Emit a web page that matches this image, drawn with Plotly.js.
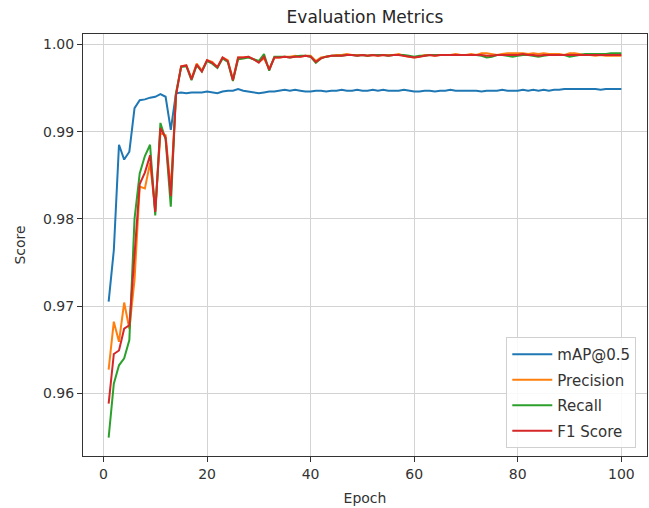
<!DOCTYPE html>
<html>
<head>
<meta charset="utf-8">
<script src="https://cdn.plot.ly/plotly-3.0.1.min.js"></script>
<style>html,body{margin:0;padding:0;background:#fff;}#chart{width:649px;height:508px;}</style>
</head>
<body>
<div id="chart"></div>
<script>
const epochs = [];
for (let i = 1; i <= 100; i++) epochs.push(i);

const seriesNames = ["mAP@0.5", "Precision", "Recall", "F1 Score"];

const mAP50 = [
0.9705,0.9764,0.9885,0.9868,0.9877,0.9927,0.9936,0.9937,0.9939,0.9940,
0.9943,0.9940,0.9902,0.9944,0.9945,0.9944,0.9945,0.9945,0.9945,0.9946,
0.9945,0.9944,0.9946,0.9947,0.9947,0.9949,0.9947,0.9946,0.9945,0.9944,
0.9945,0.9946,0.9946,0.9947,0.9948,0.9947,0.9948,0.9947,0.9946,0.9946,
0.9947,0.9947,0.9946,0.9947,0.9947,0.9948,0.9947,0.9947,0.9948,0.9947,
0.9947,0.9948,0.9947,0.9948,0.9947,0.9947,0.9947,0.9948,0.9947,0.9946,
0.9946,0.9947,0.9947,0.9946,0.9947,0.9947,0.9948,0.9947,0.9947,0.9947,
0.9947,0.9947,0.9946,0.9947,0.9947,0.9947,0.9948,0.9947,0.9947,0.9947,
0.9948,0.9947,0.9948,0.9947,0.9948,0.9947,0.9948,0.9948,0.9949,0.9949,
0.9949,0.9949,0.9949,0.9949,0.9949,0.9948,0.9949,0.9949,0.9949,0.9949
];

const precision = [
0.9627,0.9682,0.9659,0.9704,0.9674,0.9730,0.9837,0.9835,0.9864,0.9810,
0.9898,0.9896,0.9833,0.9943,0.9975,0.9976,0.9961,0.9978,0.9970,0.9982,
0.9980,0.9974,0.9985,0.9982,0.9960,0.9985,0.9985,0.9986,0.9983,0.9980,
0.9984,0.9972,0.9985,0.9985,0.9986,0.9986,0.9987,0.9986,0.9987,0.9987,
0.9981,0.9985,0.9986,0.9987,0.9988,0.9988,0.9989,0.9988,0.9988,0.9988,
0.9987,0.9988,0.9987,0.9988,0.9988,0.9988,0.9989,0.9987,0.9986,0.9985,
0.9986,0.9988,0.9988,0.9987,0.9988,0.9988,0.9988,0.9989,0.9988,0.9988,
0.9989,0.9988,0.9990,0.9990,0.9989,0.9988,0.9989,0.9990,0.9990,0.9990,
0.9990,0.9989,0.9990,0.9989,0.9990,0.9989,0.9989,0.9989,0.9988,0.9990,
0.9990,0.9989,0.9988,0.9988,0.9987,0.9988,0.9987,0.9987,0.9987,0.9987
];

const recall = [
0.9549,0.9611,0.9632,0.9640,0.9661,0.9800,0.9852,0.9872,0.9885,0.9804,
0.9910,0.9891,0.9814,0.9944,0.9974,0.9975,0.9959,0.9976,0.9969,0.9981,
0.9978,0.9973,0.9984,0.9980,0.9958,0.9983,0.9984,0.9985,0.9983,0.9981,
0.9989,0.9970,0.9986,0.9986,0.9986,0.9985,0.9986,0.9987,0.9987,0.9986,
0.9979,0.9984,0.9986,0.9987,0.9987,0.9987,0.9988,0.9988,0.9987,0.9988,
0.9987,0.9988,0.9988,0.9988,0.9987,0.9988,0.9988,0.9988,0.9987,0.9986,
0.9987,0.9987,0.9988,0.9988,0.9988,0.9988,0.9988,0.9988,0.9988,0.9988,
0.9988,0.9988,0.9987,0.9985,0.9986,0.9988,0.9988,0.9987,0.9986,0.9987,
0.9988,0.9988,0.9987,0.9986,0.9987,0.9988,0.9988,0.9988,0.9988,0.9986,
0.9987,0.9988,0.9989,0.9989,0.9989,0.9989,0.9989,0.9990,0.9990,0.9990
];

const f1 = [
0.9588,0.9645,0.9649,0.9674,0.9678,0.9762,0.9840,0.9853,0.9873,0.9808,
0.9904,0.9893,0.9826,0.9941,0.9975,0.9976,0.9960,0.9977,0.9969,0.9982,
0.9979,0.9974,0.9985,0.9981,0.9959,0.9985,0.9985,0.9986,0.9983,0.9979,
0.9986,0.9971,0.9985,0.9985,0.9986,0.9985,0.9986,0.9986,0.9987,0.9986,
0.9980,0.9984,0.9986,0.9987,0.9987,0.9987,0.9988,0.9988,0.9987,0.9988,
0.9987,0.9988,0.9987,0.9988,0.9987,0.9988,0.9988,0.9987,0.9986,0.9985,
0.9986,0.9987,0.9988,0.9987,0.9988,0.9988,0.9988,0.9988,0.9988,0.9988,
0.9988,0.9988,0.9988,0.9987,0.9987,0.9988,0.9988,0.9988,0.9988,0.9988,
0.9989,0.9988,0.9988,0.9987,0.9988,0.9988,0.9988,0.9988,0.9988,0.9988,
0.9988,0.9988,0.9988,0.9988,0.9988,0.9988,0.9988,0.9988,0.9988,0.9988
];

const xTicks = [0, 20, 40, 60, 80, 100];
const yTicks = [0.96, 0.97, 0.98, 0.99, 1.00];
const yTickText = ["0.96", "0.97", "0.98", "0.99", "1.00"];
const colors = ["#1f77b4", "#ff7f0e", "#2ca02c", "#d62728"];
const allSeries = [mAP50, precision, recall, f1];

const traces = allSeries.map((ys, i) => ({
  x: epochs, y: ys, type: "scatter", mode: "lines",
  name: seriesNames[i], legendgroup: "g" + i,
  line: {color: colors[i], width: 2}
}));

const FONT = "DejaVu Sans, sans-serif";
const layout = {
  width: 649, height: 508,
  paper_bgcolor: "#ffffff", plot_bgcolor: "#ffffff",
  margin: {l: 83, r: 2, t: 34, b: 52, pad: 0},
  font: {family: FONT, size: 14, color: "#333333"},
  title: {text: "Evaluation Metrics", font: {family: FONT, size: 17, color: "#262626"},
          x: 0.5, xref: "paper", xanchor: "center", y: 1 - 17/508, yref: "container", yanchor: "middle"},
  showlegend: true,
  legend: {x: 0.981, y: 0.019, xanchor: "right", yanchor: "bottom",
           bgcolor: "rgba(255,255,255,0.85)", bordercolor: "#d0d0d0", borderwidth: 1,
           tracegroupgap: 3,
           font: {family: FONT, size: 15, color: "#333333"}, itemwidth: 40},
  xaxis: {
    range: [-3.95, 104.95], tickmode: "array", tickvals: xTicks,
    ticks: "outside", ticklen: 5, tickcolor: "#333333",
    showgrid: true, gridcolor: "#d3d3d3", gridwidth: 1, zeroline: false,
    showline: true, linecolor: "#333333", linewidth: 1, mirror: true,
    tickfont: {family: FONT, size: 14, color: "#333333"},
    title: {text: "Epoch", font: {family: FONT, size: 14, color: "#333333"}, standoff: 12}
  },
  yaxis: {
    range: [0.9528, 1.0012], tickmode: "array", tickvals: yTicks, ticktext: yTickText,
    ticks: "outside", ticklen: 5, tickcolor: "#333333",
    showgrid: true, gridcolor: "#d3d3d3", gridwidth: 1, zeroline: false,
    showline: true, linecolor: "#333333", linewidth: 1, mirror: true,
    tickfont: {family: FONT, size: 14, color: "#333333"},
    title: {text: "Score", font: {family: FONT, size: 14, color: "#333333"}, standoff: 14}
  }
};

Plotly.newPlot("chart", traces, layout, {displayModeBar: false, staticPlot: true});
</script>
</body>
</html>
